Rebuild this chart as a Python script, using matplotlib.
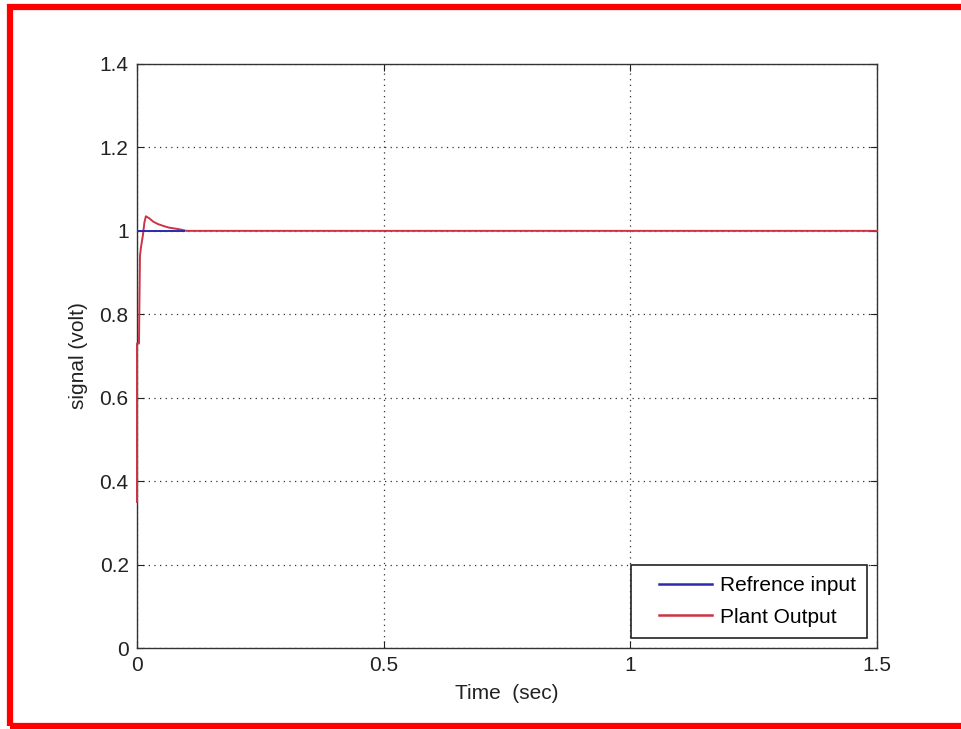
import numpy as np
import matplotlib.pyplot as plt
from matplotlib.patches import Rectangle
from matplotlib.legend_handler import HandlerLine2D

# datos
t_ref = [0.0, 0.095]
y_ref = [1.0, 1.0]

t_out = [0.0, 0.0, 0.004, 0.006, 0.008, 0.012, 0.015, 0.018, 0.025, 0.033, 0.043, 0.053, 0.064, 0.074, 0.085, 0.093, 0.1, 1.5]
y_out = [0.35, 0.73, 0.73, 0.94, 0.96, 0.99, 1.02, 1.035, 1.03, 1.022, 1.016, 1.012, 1.008, 1.006, 1.004, 1.002, 1.0, 1.0]

xticks = [0, 0.5, 1, 1.5]
xticklabels = ['0', '0.5', '1', '1.5']
yticks = [0, 0.2, 0.4, 0.6, 0.8, 1, 1.2, 1.4]
yticklabels = ['0', '0.2', '0.4', '0.6', '0.8', '1', '1.2', '1.4']

plt.rcParams['font.family'] = ['Liberation Sans', 'DejaVu Sans']

fig = plt.figure(figsize=(9.61, 7.29), dpi=100)
ax = fig.add_axes([137/961, 81/729, 740/961, 584/729])

l_out, = ax.plot(t_out, y_out, color='#cc3344', linewidth=1.4, zorder=3, clip_on=False)
l_ref, = ax.plot(t_ref, y_ref, color='#2a2ab0', linewidth=1.4, zorder=4)

ax.set_xlim(0, 1.5)
ax.set_ylim(0, 1.4)
ax.set_xticks(xticks)
ax.set_xticklabels(xticklabels)
ax.set_yticks(yticks)
ax.set_yticklabels(yticklabels)
ax.tick_params(direction='in', top=True, right=True, labelsize=15, length=5,
               width=0.8, pad=6, colors='#222222')
ax.grid(True, linestyle=(0, (1, 3.5)), color='#333333', linewidth=0.9)
for s in ax.spines.values():
    s.set_linewidth(1.0)
    s.set_color('#333333')

ax.set_xlabel('Time  (sec)', fontsize=15, color='#222222', labelpad=6)
ax.set_ylabel('signal (volt)', fontsize=15, color='#222222', labelpad=8)

# linea de leyenda con margen a la izquierda (estilo MATLAB)
hmap = {l_ref: HandlerLine2D(numpoints=2, marker_pad=0.82),
        l_out: HandlerLine2D(numpoints=2, marker_pad=0.82)}
leg = ax.legend([l_ref, l_out], ['Refrence input', 'Plant Output'],
                loc='lower right', fontsize=15, fancybox=False, framealpha=1,
                edgecolor='#222222', handlelength=4.2, borderaxespad=0.5,
                borderpad=0.53, labelspacing=0.58, handletextpad=-0.48,
                handler_map=hmap)
leg.get_frame().set_linewidth(1.2)
for h in leg.legend_handles:
    h.set_linewidth(1.8)
    h.set_marker('')

# marco rojo alrededor
fig.patches.append(Rectangle((10/961, 3/729), 1.05, 719/729, transform=fig.transFigure,
                             fill=False, edgecolor='#ff0000', linewidth=4.5, clip_on=False))

fig.savefig('out.png', dpi=100)
